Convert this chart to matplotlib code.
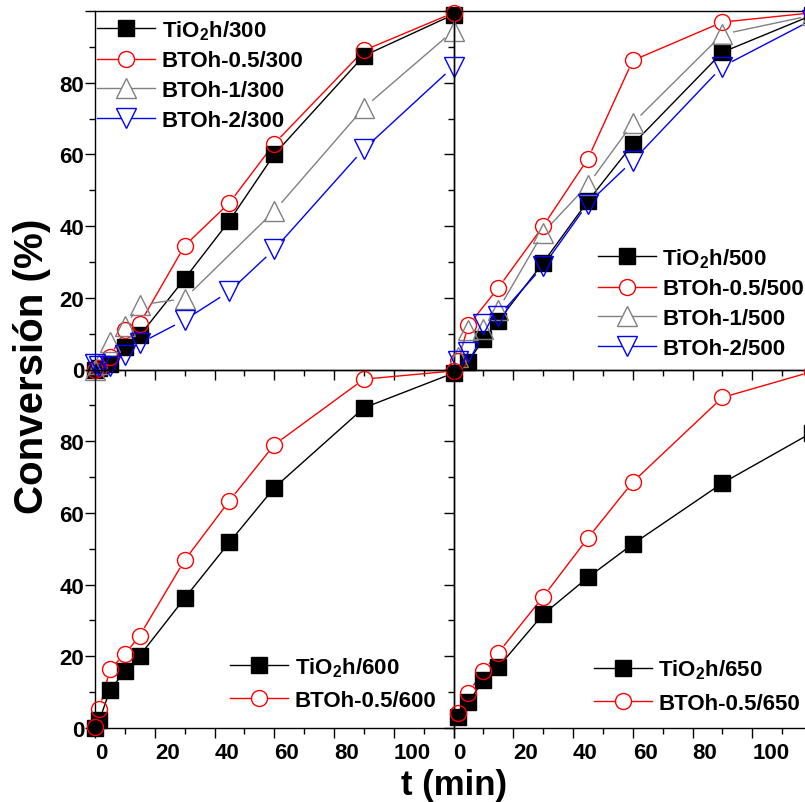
import numpy as np
import matplotlib
matplotlib.use("Agg")
import matplotlib.pyplot as plt
from matplotlib.lines import Line2D
from matplotlib.ticker import MultipleLocator

plt.rcParams['font.family'] = ['Liberation Sans', 'DejaVu Sans']
plt.rcParams['font.weight'] = 'bold'
plt.rcParams['mathtext.fontset'] = 'custom'
plt.rcParams['mathtext.rm'] = 'Liberation Sans:bold'
plt.rcParams['mathtext.bf'] = 'Liberation Sans:bold'
plt.rcParams['mathtext.it'] = 'Liberation Sans:bold'
plt.rcParams['mathtext.default'] = 'rm'

nan = np.nan

# sampling times (min)
t = [0, 1.5, 5, 10, 15, 30, 45, 60, 90, 120]

# conversion (%) -- calcined at 300
tio2_300 = [0, 0.5, 1.5, 6.3, 9.5, 25.3, 41.5, 60.0, 87.5, 99.0]
bto05_300 = [0, 0.5, 3.5, 11.0, 12.8, 34.5, 46.5, 63.0, 89.0, 99.5]
bto1_300 = [0, 1.5, 7.8, 12.0, 18.0, 19.8, nan, 44.2, 73.0, 94.5]
bto2_300 = [1.5, 1.0, 1.0, 4.0, 7.3, 13.8, 21.8, 33.5, 61.5, 84.5]

# calcined at 500
tio2_500 = [nan, nan, 2.2, 8.4, 13.5, 29.8, 47.0, 62.8, 88.5, 98.8]
bto05_500 = [nan, 2.5, 12.3, nan, 22.8, 40.0, 58.8, 86.2, 96.9, 99.5]
bto1_500 = [nan, 3.5, 11.0, 11.2, 16.7, 38.2, 51.5, 68.7, 93.5, 98.8]
bto2_500 = [nan, 2.3, 5.0, 12.6, 14.8, 28.8, 46.3, 58.2, 84.5, 97.5]

# calcined at 600
tio2_600 = [0, 2.3, 10.5, 15.9, 20.2, 36.2, 51.8, 67.0, 89.3, 99.0]
bto05_600 = [0.3, 5.3, 16.4, 20.6, 25.8, 46.8, 63.4, 79.0, 97.3, 99.6]

# calcined at 650
tio2_650 = [nan, 3.0, 7.2, 13.3, 17.0, 31.7, 42.0, 51.3, 68.3, 82.4]
bto05_650 = [nan, 4.2, 9.8, 16.0, 21.0, 36.6, 53.0, 68.6, 92.2, 99.4]

xtick_labels = ['0', '20', '40', '60', '80', '100', '']
ytick_labels = ['0', '20', '40', '60', '80', '']

# colour, marker, size, filled
STYLE = {
    'TiO2': ('black', 's', 11, True),
    'BTOh-0.5': ('red', 'o', 11.5, False),
    'BTOh-1': ('#808080', '^', 14.5, False),
    'BTOh-2': ('blue', 'v', 14.5, False),
}

W, H = 805, 803
fig = plt.figure(figsize=(W / 100, H / 100), dpi=100)


def box(x0, ytop, w=358.5, h=358.5):
    return [x0 / W, 1 - (ytop + h) / H, w / W, h / H]


def gapped_line(ax, x, y, color, gap):
    # Origin-style: segments stop short of the symbols
    x = np.asarray(x, float)
    y = np.asarray(y, float)
    pts = ax.transData.transform(np.column_stack([x, y]))
    inv = ax.transData.inverted()
    for p0, p1 in zip(pts[:-1], pts[1:]):
        d = p1 - p0
        L = np.hypot(*d)
        if L <= 2 * gap:
            continue
        u = d / L
        a, b = inv.transform([p0 + u * gap, p1 - u * gap])
        ax.plot([a[0], b[0]], [a[1], b[1]], color=color, lw=1.0,
                clip_on=False, zorder=2)


panels = [
    (box(95, 12), [('TiO2', tio2_300), ('BTOh-0.5', bto05_300),
                   ('BTOh-1', bto1_300), ('BTOh-2', bto2_300)],
     '300', (0.006, 0.823), 0.39, False, True),
    (box(453.5, 12), [('TiO2', tio2_500), ('BTOh-0.5', bto05_500),
                      ('BTOh-1', bto1_500), ('BTOh-2', bto2_500)],
     '500', (0.403, 0.187), 0.39, False, False),
    (box(95, 370.5), [('TiO2', tio2_600), ('BTOh-0.5', bto05_600)],
     '600', (0.377, 0.1255), 0.5, True, True),
    (box(453.5, 370.5), [('TiO2', tio2_650), ('BTOh-0.5', bto05_650)],
     '650', (0.392, 0.118), 0.55, True, False),
]

for pos, series, temp, anchor, spacing, xlab, ylab in panels:
    ax = fig.add_axes(pos)
    ax.set_facecolor('none')
    ax.set_xlim(0, 120)
    ax.set_ylim(0, 100)

    handles = []
    for name, vals in series:
        color, mk, ms, filled = STYLE[name]
        y = np.asarray(vals, float)
        ok = ~np.isnan(y)
        xs = np.asarray(t, float)[ok]
        gapped_line(ax, xs, y[ok], color, ms / 0.72 / 2 + 1.5)
        ax.plot(xs, y[ok], ls='none', marker=mk, ms=ms,
                mfc=color if filled else 'none', mec=color, mew=1.0,
                clip_on=False, zorder=3)
        label = ('TiO$_2$h/' if name == 'TiO2' else name + '/') + temp
        handles.append(Line2D([], [], color=color, lw=1.0, marker=mk, ms=ms,
                              mfc=color if filled else 'white', mec=color,
                              mew=1.0, label=label))

    ax.legend(handles=handles, loc='center left', bbox_to_anchor=anchor,
              frameon=False, fontsize=16, handlelength=2.6,
              handletextpad=0.3, borderpad=0, borderaxespad=0,
              labelspacing=spacing, numpoints=1)

    ax.set_xticks(range(0, 121, 20))
    ax.set_yticks(range(0, 101, 20))
    ax.xaxis.set_minor_locator(MultipleLocator(10))
    ax.yaxis.set_minor_locator(MultipleLocator(10))
    ax.tick_params(which='both', direction='out', top=False, right=False,
                   width=1.0, labelsize=16)
    ax.tick_params(which='major', length=7.2)
    ax.tick_params(which='minor', length=4.3)
    ax.tick_params(axis='x', pad=3)
    ax.tick_params(axis='y', pad=0.5)
    if xlab:
        ax.set_xticklabels(xtick_labels, fontweight='bold')
        for lb in ax.get_xticklabels():
            lb.set_horizontalalignment('left')
    else:
        ax.tick_params(axis='x', labelbottom=False)
    if ylab:
        ax.set_yticklabels(ytick_labels, fontweight='bold')
    else:
        ax.tick_params(axis='y', labelleft=False)
    for sp in ax.spines.values():
        sp.set_linewidth(1.0)

fig.text(43 / W, 1 - 366 / H, 'Conversión (%)', rotation=90,
         rotation_mode='anchor', ha='center', va='baseline',
         fontsize=29, fontweight='bold')
fig.text(454 / W, 1 - 795 / H, 't (min)', ha='center', va='baseline',
         fontsize=25, fontweight='bold')

fig.savefig('out.png', dpi=100, facecolor='white')
